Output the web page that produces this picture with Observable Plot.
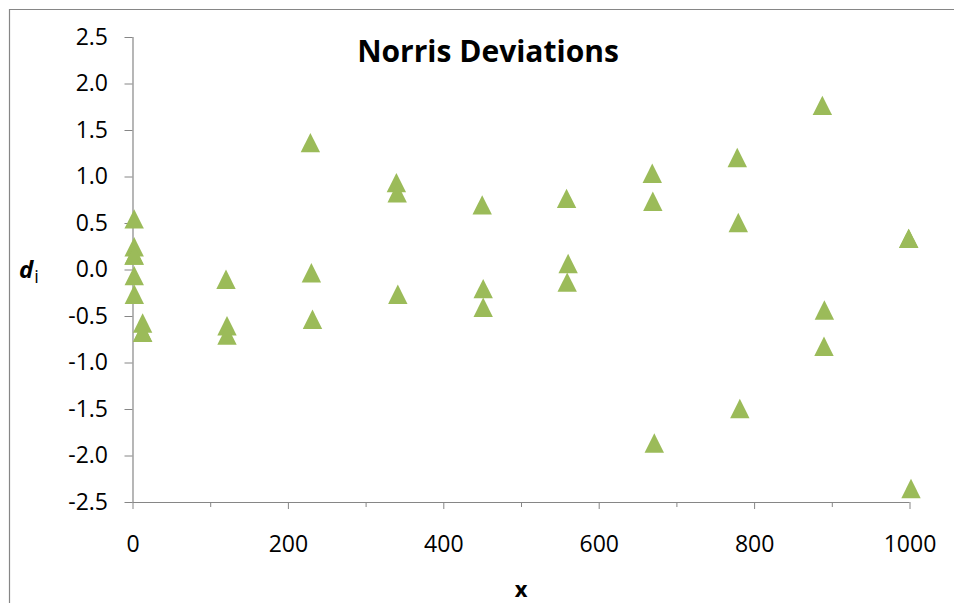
<!DOCTYPE html>
<html>
<head>
<meta charset="utf-8">
<script src="https://cdn.jsdelivr.net/npm/d3@7"></script>
<script src="https://cdn.jsdelivr.net/npm/@observablehq/plot@0.6"></script>
<style>
  html, body { margin: 0; padding: 0; background: #fff; overflow: hidden; }
  #chart { position: relative; width: 954px; height: 603px; }
</style>
</head>
<body>
<div id="chart"></div>
<script>
// Data
const xValues = [
  1.5, 1.5, 1.3, 1.6, 1.6, 1.7,
  12.4, 12.4, 12.4,
  119.7, 121, 121,
  228.3, 229.6, 231,
  339, 340, 340.8,
  449.4, 450.7, 450.7,
  558, 560, 558.8,
  668.3, 669, 670.9,
  777.7, 779, 781,
  887.2, 889.8, 889.3,
  998.3, 998.3, 1001.3
];
const dValues = [
  0.55, 0.25, 0.16, 0.16, -0.06, -0.26,
  -0.57, -0.67, -0.67,
  -0.10, -0.60, -0.70,
  1.37, -0.03, -0.53,
  0.94, 0.83, -0.26,
  0.70, -0.20, -0.40,
  0.77, 0.07, -0.13,
  1.04, 0.74, -1.86,
  1.21, 0.51, -1.49,
  1.77, -0.43, -0.82,
  0.34, 0.34, -2.35
];
const xTicks = [0, 200, 400, 600, 800, 1000];
const xTickLabels = ["0", "200", "400", "600", "800", "1000"];
const xMinorTicks = [100, 300, 500, 700, 900];
const yTicks = [-2.5, -2.0, -1.5, -1.0, -0.5, 0.0, 0.5, 1.0, 1.5, 2.0, 2.5];
const yTickLabels = ["-2.5", "-2.0", "-1.5", "-1.0", "-0.5", "0.0", "0.5", "1.0", "1.5", "2.0", "2.5"];
const titleText = "Norris Deviations";
const xLabel = "x";

const points = xValues.map((x, i) => ({x, d: dValues[i]}));
const xLabelMap = new Map(xTicks.map((t, i) => [t, xTickLabels[i]]));
const yLabelMap = new Map(yTicks.map((t, i) => [t, yTickLabels[i]]));

const axisColor = "#868686";
const green = "#9BBB59";

// isosceles triangle centered on its bounding box (Excel-style marker)
const excelTriangle = {
  draw(context, size) {
    const h = Math.sqrt(size / Math.PI);
    context.moveTo(0, -h);
    context.lineTo(h, h);
    context.lineTo(-h, h);
    context.closePath();
  }
};

const plot = Plot.plot({
  width: 954,
  height: 603,
  marginLeft: 132.5,
  marginRight: 44.5,
  marginTop: 37,
  marginBottom: 101,
  x: {domain: [0, 1000]},
  y: {domain: [-2.5, 2.5]},
  style: {fontFamily: "'Open Sans', sans-serif", fontSize: "23px", color: "#000", background: "transparent", overflow: "visible"},
  marks: [
    Plot.axisY({ticks: yTicks, tickFormat: d => yLabelMap.get(d), tickSize: 8, tickPadding: 17, stroke: axisColor, label: null}),
    Plot.axisX({ticks: xTicks, tickFormat: d => xLabelMap.get(d), tickSize: 7, tickPadding: 26, stroke: axisColor, label: null}),
    Plot.axisX({ticks: xMinorTicks, tickFormat: () => "", tickSize: 5, stroke: axisColor, label: null}),
    Plot.ruleX([0], {stroke: axisColor, strokeWidth: 1.2}),
    Plot.ruleY([-2.5], {stroke: axisColor, strokeWidth: 1.2}),
    Plot.dot(points, {x: "x", y: "d", symbol: excelTriangle, r: 9.7, fill: green, stroke: "none"})
  ]
});

document.getElementById("chart").appendChild(plot);

const svg = d3.select(plot);
// chart-area border (only left and top visible in the crop)
svg.insert("path", ":first-child")
  .attr("d", "M9.5,603V9.5H954")
  .attr("fill", "none")
  .attr("stroke", axisColor)
  .attr("stroke-width", 1.2);

svg.append("text")
  .attr("x", 488).attr("y", 62)
  .attr("text-anchor", "middle")
  .attr("font-family", "'Open Sans', sans-serif")
  .attr("font-weight", "bold")
  .attr("font-size", 30)
  .attr("fill", "#000")
  .text(titleText);

const yl = svg.append("text")
  .attr("x", 29).attr("y", 278)
  .attr("font-family", "'Open Sans', sans-serif")
  .attr("fill", "#000");
yl.append("tspan").attr("font-weight", "bold").attr("font-style", "italic").attr("font-size", 24).text("d");
yl.append("tspan").attr("font-size", 18).attr("dx", 1).attr("dy", 5).text("i");

svg.append("text")
  .attr("x", 521).attr("y", 597)
  .attr("text-anchor", "middle")
  .attr("font-family", "'Open Sans', sans-serif")
  .attr("font-weight", "bold")
  .attr("font-size", 22)
  .attr("fill", "#000")
  .text(xLabel);
</script>
</body>
</html>
